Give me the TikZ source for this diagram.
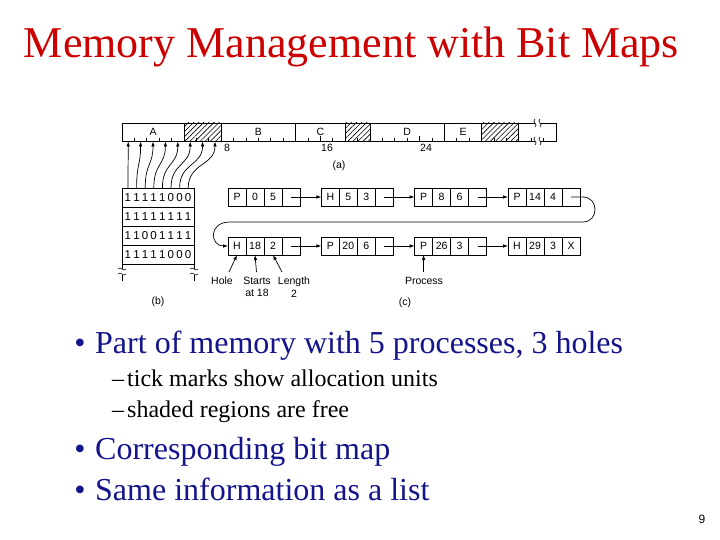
\documentclass[tikz,border=0pt]{standalone}
\usepackage{fontspec}
\setmainfont{Liberation Serif}
\setsansfont{Liberation Sans}
\usetikzlibrary{arrows.meta,patterns.meta}
\definecolor{titlered}{RGB}{204,0,0}
\definecolor{bulletblue}{RGB}{20,20,140}
\newcommand\bitcell[1]{\makebox[8.6pt]{#1}}
\newcommand\bitrow[8]{\bitcell{#1}\bitcell{#2}\bitcell{#3}\bitcell{#4}\bitcell{#5}\bitcell{#6}\bitcell{#7}\bitcell{#8}}
\newcommand\lnode[7]{%
  \node[cell] (#1-1) at (#2,#3) {#4};
  \node[cell] (#1-2) at (#1-1.east) {#5};
  \node[cell] (#1-3) at (#1-2.east) {#6};
  \node[cell] (#1-4) at (#1-3.east) {#7};}
\begin{document}
\begin{tikzpicture}[x=1pt,y=-1pt,
  fig/.style={font=\fontsize{10.5}{12.5}\selectfont\sffamily},
  memseg/.style={draw, line width=0.8pt, minimum height=18pt, inner sep=0pt, outer sep=0pt, anchor=west, fig},
  holeseg/.style={memseg, pattern={Lines[angle=45,distance=3.6pt,line width=0.6pt]}},
  cell/.style={draw, line width=0.8pt, minimum width=18pt, minimum height=18pt, inner sep=0pt, outer sep=0pt, anchor=west, fig},
  bmrow/.style={draw, line width=0.8pt, minimum width=72pt, minimum height=19pt, inner sep=0pt, outer sep=0pt, font=\fontsize{11.5}{13}\selectfont\sffamily},
  ptr/.style={line width=0.7pt, -{Latex[length=5pt,width=3.6pt]}},
  lbl/.style={fig, inner sep=0pt},
  titlestyle/.style={font=\fontsize{44}{44}\selectfont, text=titlered, inner sep=0pt},
  bigtext/.style={font=\fontsize{32}{32}\selectfont, text=bulletblue, inner sep=0pt},
  subtext/.style={font=\fontsize{24}{24}\selectfont, text=black, inner sep=0pt},
  brk/.style={line width=0.6pt}
]
\useasboundingbox (0,0) rectangle (720,540);
\fill[white] (0,0) rectangle (720,540);

% title
\node[titlestyle, anchor=base] (title) at (351.5,58) {Memory Management with Bit Maps};

% memory bar
\node[memseg, minimum width=62pt] (sA) at (122,132) {A};
\node[holeseg, minimum width=37.2pt] (h1) at (sA.east) {};
\node[memseg, minimum width=74.4pt] (sB) at (h1.east) {B};
\node[memseg, minimum width=49.6pt] (sC) at (sB.east) {C};
\node[holeseg, minimum width=24.8pt] (h2) at (sC.east) {};
\node[memseg, minimum width=74.4pt] (sD) at (h2.east) {D};
\node[memseg, minimum width=37.2pt] (sE) at (sD.east) {E};
\node[holeseg, minimum width=37.2pt] (h3) at (sE.east) {};
\node[memseg, minimum width=37.2pt] (sX) at (h3.east) {};
\foreach \k in {1,...,34} \draw[line width=0.7pt] (122+12.4*\k,141) -- ++(0,-3);
\foreach \k in {8,16,24} \draw[line width=0.7pt] (122+12.4*\k,141) -- ++(0,-5);
% break marks on the bar
\fill[white] (535,121.5) rectangle (540,124.5);
\fill[white] (535,139.5) rectangle (540,142.5);
\foreach \yy in {123,141}{
  \draw[brk] (535,\yy-4) .. controls (531,\yy-1.5) and (539,\yy+1.5) .. (535,\yy+4);
  \draw[brk] (540,\yy-4) .. controls (536,\yy-1.5) and (544,\yy+1.5) .. (540,\yy+4);
}
\node[lbl] (l8) at (227,148) {8};
\node[lbl] (l16) at (327,148) {16};
\node[lbl] (l24) at (426,148) {24};
\node[lbl] (la) at (339,166) {(a)};

% bitmap
\node[bmrow] (bm1) at (158,197.5) {\bitrow11111000};
\node[bmrow] (bm2) at (158,216.5) {\bitrow11111111};
\node[bmrow] (bm3) at (158,235.5) {\bitrow11001111};
\node[bmrow] (bm4) at (158,254.5) {\bitrow11111000};
\draw[line width=0.8pt] (bm4.south west) -- ++(0,17);
\draw[line width=0.8pt] (bm4.south east) -- ++(0,17);
\fill[white] (120,268.5) rectangle (124,274.5);
\fill[white] (192,268.5) rectangle (196,274.5);
\foreach \xx in {122,194}{
  \draw[brk] (\xx-4,269) .. controls (\xx-1.5,265.5) and (\xx+1.5,272.5) .. (\xx+4,269);
  \draw[brk] (\xx-4,274) .. controls (\xx-1.5,270.5) and (\xx+1.5,277.5) .. (\xx+4,274);
}
\node[lbl] (lb) at (158,302) {(b)};

% arrows bitmap -> bar
\foreach \i in {0,...,7}{
  \coordinate (b\i) at (128+8.6*\i,188);
  \coordinate (u\i) at (128.2+12.4*\i,141.5);
  \draw[ptr] (b\i) .. controls +(0,-25) and +(0,24) .. (u\i);
}

% linked list
\lnode{r1a}{228}{197}{P}{0}{5}{}
\lnode{r1b}{321.3}{197}{H}{5}{3}{}
\lnode{r1c}{414.6}{197}{P}{8}{6}{}
\lnode{r1d}{508}{197}{P}{14}{4}{}
\lnode{r2a}{228}{246}{H}{18}{2}{}
\lnode{r2b}{321.3}{246}{P}{20}{6}{}
\lnode{r2c}{414.6}{246}{P}{26}{3}{}
\lnode{r2d}{508}{246}{H}{29}{3}{X}
\draw[ptr] (r1a-4.center) -- (r1b-1.west);
\draw[ptr] (r1b-4.center) -- (r1c-1.west);
\draw[ptr] (r1c-4.center) -- (r1d-1.west);
\draw[ptr] (r2a-4.center) -- (r2b-1.west);
\draw[ptr] (r2b-4.center) -- (r2c-1.west);
\draw[ptr] (r2c-4.center) -- (r2d-1.west);
\draw[ptr] (r1d-4.center) -- (583,197) .. controls (599,197) and (599,222) .. (583,222)
  -- (230,222) .. controls (208,222) and (210,246) .. (r2a-1.west);

% labels under list
\node[lbl] (hole) at (222,281) {Hole};
\node[lbl, align=center] (starts) at (257,287) {Starts\\at 18};
\node[lbl, align=center] (length) at (294,287) {Length\\2};
\node[lbl] (process) at (424,281) {Process};
\coordinate (holeT) at (229,272);
\coordinate (startsT) at (256.5,272);
\coordinate (lengthT) at (282,272);
\coordinate (processT) at (423.6,272);
\draw[ptr] (holeT) -- (r2a-1.south);
\draw[ptr] (startsT) -- (r2a-2.south);
\draw[ptr] (lengthT) -- (r2a-3.south);
\draw[ptr] (processT) -- (r2c-1.south);
\node[lbl] (lc) at (405,303) {(c)};

% bullets
\node[bigtext, anchor=base] (d1) at (80,353) {\textbullet};
\node[bigtext, anchor=base west] (t1) at (95,353) {Part of memory with 5 processes, 3 holes};
\node[subtext, anchor=base] (d2) at (118,386) {--};
\node[subtext, anchor=base west] (t2) at (127,386) {tick marks show allocation units};
\node[subtext, anchor=base] (d3) at (118,417) {--};
\node[subtext, anchor=base west] (t3) at (127,417) {shaded regions are free};
\node[bigtext, anchor=base] (d4) at (80,459) {\textbullet};
\node[bigtext, anchor=base west] (t4) at (95,459) {Corresponding bit map};
\node[bigtext, anchor=base] (d5) at (80,500) {\textbullet};
\node[bigtext, anchor=base west] (t5) at (95,500) {Same information as a list};
\node[font=\fontsize{12}{12}\selectfont\sffamily, anchor=base, inner sep=0pt] (pg) at (702,523) {9};
\end{tikzpicture}
\end{document}
